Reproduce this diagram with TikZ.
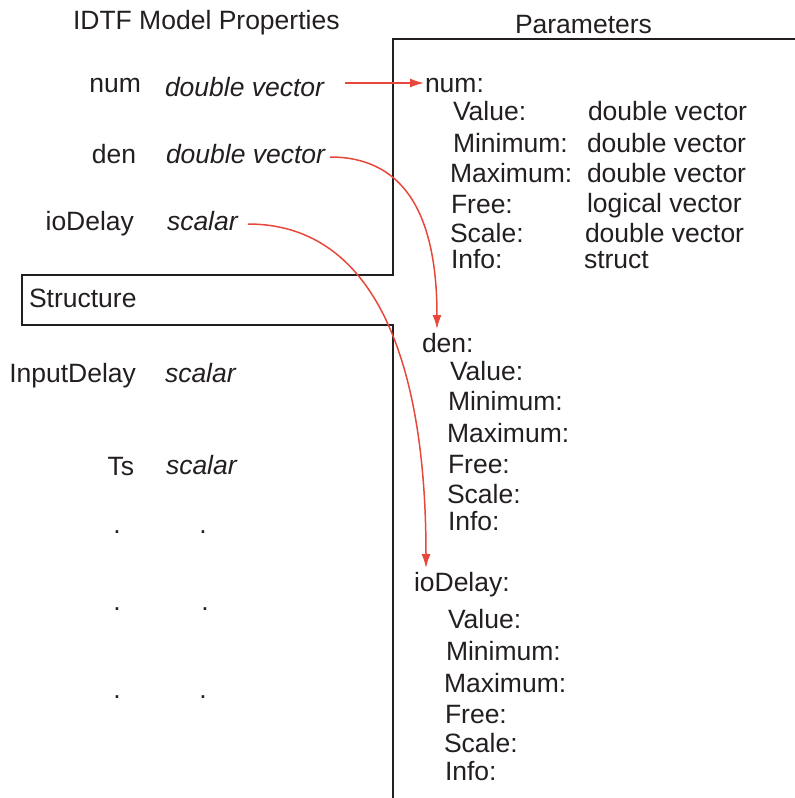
\documentclass[tikz,border=0pt]{standalone}
\usepackage{fontspec}
\setmainfont{Liberation Sans}
\usetikzlibrary{arrows.meta}
\definecolor{ink}{RGB}{35,31,32}
\definecolor{arrred}{RGB}{232,72,60}
\begin{document}
\begin{tikzpicture}[x=0.5pt,y=-0.5pt,
  every node/.style={inner sep=0pt,outer sep=0pt,text=ink,font=\fontsize{13.25}{16}\selectfont},
  lbl/.style={anchor=base west},
  rlbl/.style={anchor=base east},
  typ/.style={anchor=base west,font=\fontsize{13.25}{16}\selectfont\itshape},
  dotn/.style={anchor=base},
  frame/.style={draw=ink,line width=1pt},
  link/.style={draw=arrred,line width=0.75pt,-{Latex[length=7pt,width=4.5pt]}}]
\useasboundingbox (0,0) rectangle (795,798);
% frame
\draw[frame] (795,39) -- (393,39) -- (393,275) -- (22,275) -- (22,325) -- (393,325) -- (393,798);
% titles
\node[lbl] (t1) at (73,29) {IDTF Model Properties};
\node[lbl] (t2) at (515,33) {Parameters};
% left column
\node[rlbl] (lnum) at (141,92) {num};
\node[typ] (tnum) at (165,96) {double vector};
\node[rlbl] (lden) at (136,163) {den};
\node[typ] (tden) at (166,163) {double vector};
\node[rlbl] (lio) at (134,230) {ioDelay};
\node[typ] (tio) at (167,230) {scalar};
\node[lbl] (lstruct) at (29,307) {Structure};
\node[rlbl] (lin) at (136,382) {InputDelay};
\node[typ] (tin) at (165,382) {scalar};
\node[rlbl] (lts) at (134,475) {Ts};
\node[typ] (tts) at (166,474) {scalar};
\node[dotn] (d1) at (117,533) {.};
\node[dotn] (d2) at (203,533) {.};
\node[dotn] (d3) at (117,610) {.};
\node[dotn] (d4) at (205,610) {.};
\node[dotn] (d5) at (117,698) {.};
\node[dotn] (d6) at (203,698) {.};
% right column: num
\node[lbl] (pnum) at (425,92) {num:};
\node[lbl] (pnv) at (453,120) {Value:};
\node[lbl] (pnvt) at (588,120) {double vector};
\node[lbl] (pnmin) at (453,152) {Minimum:};
\node[lbl] (pnmint) at (587,152) {double vector};
\node[lbl] (pnmax) at (450,182) {Maximum:};
\node[lbl] (pnmaxt) at (587,182) {double vector};
\node[lbl] (pnf) at (451,213) {Free:};
\node[lbl] (pnft) at (587,212) {logical vector};
\node[lbl] (pns) at (450,242) {Scale:};
\node[lbl] (pnst) at (585,242) {double vector};
\node[lbl] (pni) at (451,268) {Info:};
\node[lbl] (pnit) at (584,268) {struct};
% den
\node[lbl] (pden) at (422,352) {den:};
\node[lbl] (pdv) at (450,380) {Value:};
\node[lbl] (pdmin) at (448,410) {Minimum:};
\node[lbl] (pdmax) at (447,442) {Maximum:};
\node[lbl] (pdf) at (448,473) {Free:};
\node[lbl] (pds) at (447,503) {Scale:};
\node[lbl] (pdi) at (448,530) {Info:};
% ioDelay
\node[lbl] (pio) at (414,591) {ioDelay:};
\node[lbl] (piv) at (448,628) {Value:};
\node[lbl] (pimin) at (446,660) {Minimum:};
\node[lbl] (pimax) at (444,692) {Maximum:};
\node[lbl] (pif) at (445,723) {Free:};
\node[lbl] (pis) at (444,752) {Scale:};
\node[lbl] (pii) at (445,780) {Info:};
% connector end points
\coordinate (s1) at (345,83);
\coordinate (e1) at (424,83);
\coordinate (s2) at (330,157);
\coordinate (e2) at (437,329);
\coordinate (s3) at (248,224);
\coordinate (e3) at (426,568);
\draw[link] (s1) -- (e1);
\draw[link] (s2) .. controls (400,157) and (437,208) .. (e2);
\draw[link] (s3) .. controls (368,224) and (426,348) .. (e3);
\end{tikzpicture}
\end{document}
